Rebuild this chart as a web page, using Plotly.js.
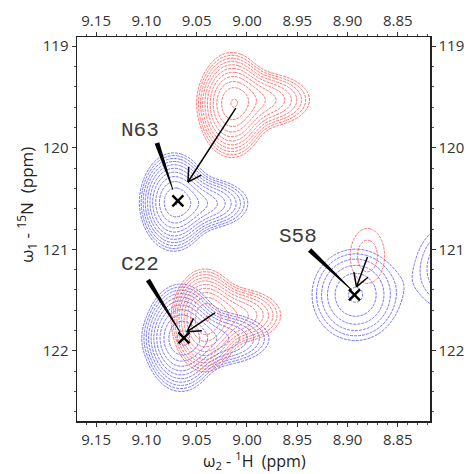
<!DOCTYPE html>
<html><head><meta charset="utf-8">
<script src="https://cdn.plot.ly/plotly-3.0.1.min.js"></script>
<style>html,body{margin:0;padding:0;background:#fff}#plot{width:467px;height:474px}</style>
</head><body><div id="plot"></div>
<script>
// ---- peak model (ppm) ----
// blue spectrum: N63 (main + tail), C22 (main + tail), S58, off-frame neighbour
const bluePeakH      = [9.0726, 9.0419, 9.0657, 9.0339, 8.892, 8.801];
const bluePeakN      = [120.534, 120.55, 121.871, 121.88, 121.448, 121.183];
const bluePeakWidthH = [0.015, 0.023, 0.016, 0.030, 0.026, 0.022];
const bluePeakWidthN = [0.215, 0.13, 0.235, 0.14, 0.27, 0.30];
const bluePeakHeight = [1.0, 0.45, 1.0, 0.45, 0.32, 0.20];
// red spectrum: N63 (main + tail), C22 (main + tail), S58
const redPeakH      = [9.0151, 8.9843, 9.0419, 9.0111, 8.8802];
const redPeakN      = [119.58, 119.53, 121.70, 121.65, 121.065];
const redPeakWidthH = [0.015, 0.025, 0.0145, 0.024, 0.019];
const redPeakWidthN = [0.23, 0.14, 0.225, 0.14, 0.30];
const redPeakHeight = [1.0, 0.45, 1.0, 0.45, 0.12];
const contourLowest = 0.08;
const contourFactor = 1.31;

// assignments
const peakLabels  = ['N63', 'C22', 'S58'];
const crossH      = [9.0687, 9.0627, 8.8931];
const crossN      = [120.524, 121.871, 121.448];
const labelH      = [9.1063, 9.1063, 8.9496];
const labelN      = [119.826, 121.153, 120.878];
const leaderFromH = [9.0895, 9.0984, 8.9377];
const leaderFromN = [119.954, 121.301, 121.006];
const leaderToH   = [9.0736, 9.0667, 8.8960];
const leaderToN   = [120.416, 121.812, 121.399];
const shiftFromH  = [9.0111, 9.0319, 8.8802];
const shiftFromN  = [119.610, 121.625, 121.075];
const shiftToH    = [9.0587, 9.0597, 8.8911];
const shiftToN    = [120.337, 121.812, 121.370];

const hTicks = [9.15, 9.10, 9.05, 9.00, 8.95, 8.90, 8.85];
const nTicks = [119, 120, 121, 122];
const hRange = [9.169, 8.818];
const nRange = [122.69, 118.91];

// sampling grid
const gridH = [], gridN = [];
for (let i = 0; i <= 230; i++) gridH.push(8.77 + i * 0.002);
for (let j = 0; j <= 210; j++) gridN.push(118.7 + j * 0.02);

function field(H, N, A, SH, SN) {
  return gridN.map(n => gridH.map(h => {
    let s = 1e-12;
    for (let k = 0; k < H.length; k++) {
      const dx = (h - H[k]) / SH[k], dy = (n - N[k]) / SN[k];
      s += A[k] * Math.exp(-0.5 * (dx * dx + dy * dy));
    }
    return Math.log(s);
  }));
}
const zBlue = field(bluePeakH, bluePeakN, bluePeakHeight, bluePeakWidthH, bluePeakWidthN);
const zRed  = field(redPeakH, redPeakN, redPeakHeight, redPeakWidthH, redPeakWidthN);

function contourTrace(z, color) {
  return {
    type: 'contour', x: gridH, y: gridN, z: z,
    autocontour: false,
    contours: {coloring: 'lines', start: Math.log(contourLowest), end: 0.3, size: Math.log(contourFactor)},
    line: {width: 0.8, smoothing: 1, dash: '3px,1px'},
    colorscale: [[0, color], [1, color]],
    showscale: false, hoverinfo: 'skip'
  };
}

// geometry helpers for decorations
const L = 77, T = 37, W = 353, Hh = 384;
function toPx(h, n) { return [L + (h - hRange[0]) / (hRange[1] - hRange[0]) * W, T + (n - nRange[1]) / (nRange[0] - nRange[1]) * Hh]; }
function toData(px, py) { return [hRange[0] + (px - L) / W * (hRange[1] - hRange[0]), nRange[1] + (py - T) / Hh * (nRange[0] - nRange[1])]; }

const shapes = [];
for (let i = 0; i < peakLabels.length; i++) {
  // tapered leader line
  const s = toPx(leaderFromH[i], leaderFromN[i]), e = toPx(leaderToH[i], leaderToN[i]);
  let dx = e[0] - s[0], dy = e[1] - s[1]; const len = Math.hypot(dx, dy); dx /= len; dy /= len;
  const px = -dy, py = dx;
  const pts = [[s[0] + px * 2.4, s[1] + py * 2.4], [e[0] + px * 0.4, e[1] + py * 0.4], [e[0] - px * 0.4, e[1] - py * 0.4], [s[0] - px * 2.4, s[1] - py * 2.4]].map(p => toData(p[0], p[1]));
  shapes.push({type: 'path', xref: 'x', yref: 'y', path: 'M' + pts.map(p => p[0] + ',' + p[1]).join('L') + 'Z', fillcolor: '#000', line: {width: 0}});
  // shift arrow
  shapes.push({type: 'line', xref: 'x', yref: 'y', x0: shiftFromH[i], y0: shiftFromN[i], x1: shiftToH[i], y1: shiftToN[i], line: {color: '#000', width: 1.5}});
  const a = toPx(shiftFromH[i], shiftFromN[i]), b = toPx(shiftToH[i], shiftToN[i]);
  let ux = a[0] - b[0], uy = a[1] - b[1]; const ul = Math.hypot(ux, uy); ux /= ul; uy /= ul;
  [30, -30].forEach(deg => {
    const r = deg * Math.PI / 180;
    const vx = ux * Math.cos(r) - uy * Math.sin(r), vy = ux * Math.sin(r) + uy * Math.cos(r);
    const q = toData(b[0] + vx * 15, b[1] + vy * 15);
    shapes.push({type: 'line', xref: 'x', yref: 'y', x0: shiftToH[i], y0: shiftToN[i], x1: q[0], y1: q[1], line: {color: '#000', width: 1.5}});
  });
}

const annotations = peakLabels.map((t, i) => ({
  x: labelH[i], y: labelN[i], xref: 'x', yref: 'y', text: t, showarrow: false,
  font: {family: 'Liberation Mono, DejaVu Sans Mono, monospace', size: 21, color: '#3a3a3a'}
}));
annotations.push({xref: 'paper', yref: 'paper', x: 0.504, y: -0.104, xanchor: 'center', yanchor: 'middle', showarrow: false,
  text: 'ω<sub>2</sub> - <sup>1</sup>H  (ppm)', font: {family: 'Open Sans, sans-serif', size: 16, color: '#222'}});
annotations.push({xref: 'paper', yref: 'paper', x: -0.145, y: 0.5625, xanchor: 'center', yanchor: 'middle', showarrow: false, textangle: -90,
  text: 'ω<sub>1</sub> - <sup>15</sup>N  (ppm)', font: {family: 'Open Sans, sans-serif', size: 17, color: '#222'}});

const tickFont = {family: 'Open Sans, sans-serif', size: 15, color: '#333'};
const xBase = {range: hRange, tickvals: hTicks, ticktext: hTicks.map(v => v.toFixed(2)), ticks: 'outside', ticklen: 4, tickwidth: 1, tickcolor: '#333',
  minor: {dtick: 0.01, ticks: 'outside', ticklen: 2, tickcolor: '#555'}, showline: true, linecolor: '#222', linewidth: 1.5,
  showgrid: false, zeroline: false, tickfont: tickFont, fixedrange: true};
const yBase = {range: nRange, tickvals: nTicks, ticktext: nTicks.map(String), ticks: 'outside', ticklen: 4, tickwidth: 1, tickcolor: '#333',
  minor: {dtick: 0.2, ticks: 'outside', ticklen: 2, tickcolor: '#555'}, showline: true, linecolor: '#222', linewidth: 1.5,
  showgrid: false, zeroline: false, tickfont: tickFont, fixedrange: true};

const data = [
  contourTrace(zBlue, 'rgb(80,80,255)'),
  contourTrace(zRed, 'rgb(255,80,80)'),
  {type: 'scatter', mode: 'markers', x: crossH, y: crossN, hoverinfo: 'skip',
   marker: {symbol: 'x-thin', size: 11, line: {width: 2.4, color: '#000'}}},
  {type: 'scatter', mode: 'markers', x: [hTicks[0]], y: [nTicks[0]], xaxis: 'x2', yaxis: 'y2', marker: {opacity: 0}, hoverinfo: 'skip'}
];

const layout = {
  width: 467, height: 474, margin: {l: 77, r: 37, t: 37, b: 53},
  paper_bgcolor: '#fff', plot_bgcolor: '#fff', showlegend: false,
  xaxis: Object.assign({}, xBase, {side: 'bottom'}),
  yaxis: Object.assign({}, yBase, {side: 'left'}),
  xaxis2: Object.assign({}, xBase, {side: 'top', overlaying: 'x'}),
  yaxis2: Object.assign({}, yBase, {side: 'right', overlaying: 'y'}),
  shapes: shapes, annotations: annotations
};
Plotly.newPlot('plot', data, layout, {staticPlot: true, displayModeBar: false});
</script></body></html>
